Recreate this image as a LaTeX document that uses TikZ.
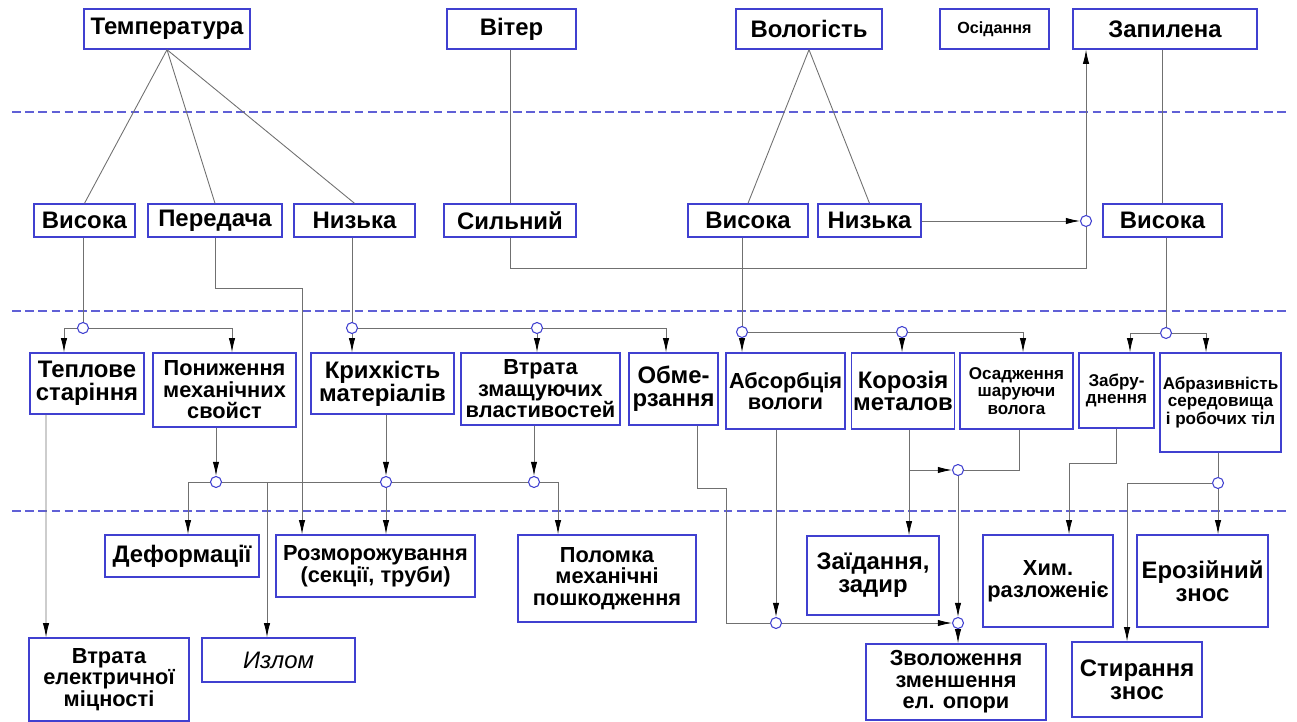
\documentclass[tikz,border=0pt]{standalone}
\usepackage{fontspec}
\setmainfont{Liberation Sans}
\usetikzlibrary{arrows.meta}
\definecolor{fmblue}{RGB}{64,64,208}
\definecolor{fmgray}{RGB}{112,112,112}
\definecolor{fmdash}{RGB}{96,96,214}
\tikzset{
  fmnode/.style={draw=fmblue, line width=0.8pt, fill=white, align=center,
    inner sep=1pt, text=black},
  fmsize/.style 2 args={minimum width=#1*0.02cm, minimum height=#2*0.02cm},
  fbig/.style={font=\bfseries\fontsize{13.6}{13}\selectfont},
  fmid/.style={font=\bfseries\fontsize{12.4}{12.3}\selectfont},
  fsmall/.style={font=\bfseries\fontsize{9.7}{10}\selectfont},
  ftiny/.style={font=\bfseries\fontsize{9.2}{10}\selectfont},
  fjoin/.style={circle, draw=fmblue, line width=0.6pt, fill=white,
    minimum size=0.22cm, inner sep=0pt},
  fline/.style={draw=fmgray, line width=0.5pt},
  farrow/.style={fline, -{Latex[length=8pt,width=3.6pt,color=black]}},
  fsep/.style={draw=fmdash, line width=0.6pt, dash pattern=on 5pt off 2.5pt}
}
\begin{document}
\begin{tikzpicture}[x=0.02cm,y=-0.02cm]
  \useasboundingbox (0,0) rectangle (1297,722);
  \foreach \yy in {112,311,511} \draw[fsep] (12,\yy) -- (1290,\yy);
  \node[fmnode,fbig,fmsize={166}{40}] (temp) at (167,29) {Температура};
  \node[fmnode,fbig,fmsize={129}{40}] (viter) at (511.5,29) {Вітер};
  \node[fmnode,fbig,fmsize={146}{40}] (volog) at (809,29) {Вологість};
  \node[fmnode,ftiny,fmsize={109}{40}] (osid) at (994.5,29) {Осідання};
  \node[fmnode,fbig,fmsize={184}{40}] (zapyl) at (1165,29) {Запилена};
  \node[fmnode,fbig,fmsize={101}{33}] (tvys) at (84.5,220.5) {Висока};
  \node[fmnode,fbig,fmsize={134}{33}] (tper) at (215,220.5) {Передача};
  \node[fmnode,fbig,fmsize={121}{33}] (tnyz) at (354.5,220.5) {Низька};
  \node[fmnode,fbig,fmsize={132}{33}] (vsyl) at (510,220.5) {Сильний};
  \node[fmnode,fbig,fmsize={120}{33}] (hvys) at (748,220.5) {Висока};
  \node[fmnode,fbig,fmsize={103}{33}] (hnyz) at (869.5,220.5) {Низька};
  \node[fmnode,fbig,fmsize={119}{33}] (zvys) at (1162.5,220.5) {Висока};
  \node[fmnode,fbig,fmsize={114}{61}] (teplo) at (87,383.5) {Теплове\\старіння};
  \node[fmnode,fmid,fmsize={143}{74}] (ponyz) at (224.5,390) {Пониження\\механічних\\свойст};
  \node[fmnode,fbig,fmsize={143}{61}] (krykh) at (382.5,383.5) {Крихкість\\матеріалів};
  \node[fmnode,fmid,fmsize={159}{72}] (vtrzm) at (540.5,389) {Втрата\\змащуючих\\властивостей};
  \node[fmnode,fbig,fmsize={89}{72}] (obmer) at (673.5,389) {Обме-\\рзання};
  \node[fmnode,fmid,fmsize={119}{76}] (absor) at (785.5,391) {Абсорбція\\вологи};
  \node[fmnode,fbig,fmsize={102}{76}] (koroz) at (903,391) {Корозія\\металов};
  \node[fmnode,fsmall,fmsize={113}{76}] (osad) at (1016.5,391) {Осадження\\шаруючи\\волога};
  \node[fmnode,fsmall,fmsize={75}{75}] (zabr) at (1116.5,390.5) {Забру-\\днення};
  \node[fmnode,fsmall,fmsize={121}{99}] (abraz) at (1220.5,402.5) {Абразивність\\середовища\\і робочих тіл};
  \node[fmnode,fbig,fmsize={154}{42}] (deform) at (182,556) {Деформації};
  \node[fmnode,fmid,fmsize={199}{62}] (rozm) at (375.5,566) {Розморожування\\(секції, труби)};
  \node[fmnode,fmid,fmsize={178}{87}] (polom) at (607,578.5) {Поломка\\механічні\\пошкодження};
  \node[fmnode,fbig,fmsize={132}{79}] (zaid) at (873,575.5) {Заїдання,\\задир};
  \node[fmnode,fmid,fmsize={130}{92}] (khim) at (1048,581) {Хим.\\разложеніє};
  \node[fmnode,fbig,fmsize={131}{92}] (eroz) at (1202.5,581) {Ерозійний\\знос};
  \node[fmnode,fmid,fmsize={160}{83}] (vtrel) at (109,679.5) {Втрата\\електричної\\міцності};
  \node[fmnode,fmsize={153}{44},font=\itshape\fontsize{13.6}{13}\selectfont] (izlom) at (278.5,660) {Излом};
  \node[fmnode,fmid,fmsize={180}{76}] (zvol) at (956,682) {Зволоження\\зменшення\\ел. опори};
  \node[fmnode,fbig,fmsize={130}{75}] (styr) at (1137,679.5) {Стирання\\знос};
  \node[fjoin] (c1) at (83,328) {};
  \node[fjoin] (c2) at (352,328) {};
  \node[fjoin] (c3) at (537,328) {};
  \node[fjoin] (c4) at (216,482) {};
  \node[fjoin] (c5) at (386,482) {};
  \node[fjoin] (c6) at (534,482) {};
  \node[fjoin] (c7) at (742,332) {};
  \node[fjoin] (c8) at (902,332) {};
  \node[fjoin] (c9) at (1166,333) {};
  \node[fjoin] (c10) at (1086,221) {};
  \node[fjoin] (c11) at (958,470) {};
  \node[fjoin] (c12) at (776,623) {};
  \node[fjoin] (c13) at (958,623) {};
  \node[fjoin] (c14) at (1218,483) {};
  \coordinate (j1) at (267,482);
  \coordinate (k2) at (909,470);
  \draw[fline] (temp.south) -- (tvys.north);
  \draw[fline] (temp.south) -- (tper.north);
  \draw[fline] (temp.south) -- (tnyz.north);
  \draw[fline] (vsyl.north |- viter.south) -- (vsyl.north);
  \draw[fline] (volog.south) -- (hvys.north);
  \draw[fline] (volog.south) -- (hnyz.north);
  \draw[fline] (zvys.north |- zapyl.south) -- (zvys.north);
  \draw[fline] (vsyl.south) -- ++(0,31) -| (c10);
  \draw[farrow] (hnyz.east |- c10) -- (c10);
  \draw[farrow] (c10) -- (c10 |- zapyl.south);
  \draw[fline] (tvys.south -| c1) -- (c1);
  \draw[farrow] (c1) -| ([xshift=-0.46cm]teplo.north);
  \draw[farrow] (c1) -| ([xshift=0.15cm]ponyz.north);
  \draw[fline] (tnyz.south -| c2) -- (c2);
  \draw[farrow] (c2) -- (c2 |- krykh.north);
  \draw[fline] (c2) -- (c3);
  \draw[farrow] (c3) -- (c3 |- vtrzm.north);
  \draw[farrow] (c3) -| ([xshift=-0.15cm]obmer.north);
  \draw[farrow] (ponyz.south -| c4) -- (c4);
  \draw[farrow] (krykh.south -| c5) -- (c5);
  \draw[farrow] (vtrzm.south -| c6) -- (c6);
  \draw[farrow] (c4) -| ([xshift=0.12cm]deform.north);
  \draw[fline] (c4) -- (c5);
  \draw[fline] (c5) -- (c6);
  \draw[farrow] (j1) -- (j1 |- izlom.north);
  \draw[farrow] (c5) -- (c5 |- rozm.north);
  \draw[farrow] (c6) -| ([xshift=-0.98cm]polom.north);
  \draw[farrow] (tper.south) -- ++(0,51) -| ([xshift=-1.47cm]rozm.north);
  \draw[farrow] ([xshift=-0.82cm]teplo.south) -- ([xshift=-1.26cm]vtrel.north);
  \draw[fline] (hvys.south -| c7) -- (c7);
  \draw[farrow] (c7) -- (c7 |- absor.north);
  \draw[fline] (c7) -- (c8);
  \draw[farrow] (c8) -- (c8 |- koroz.north);
  \draw[farrow] (c8) -| ([xshift=0.13cm]osad.north);
  \draw[farrow] (absor.south -| c12) -- (c12);
  \draw[fline] ([xshift=0.47cm]obmer.south) -- ++(0,63) -- ++(29,0) |- (c12);
  \draw[farrow] (koroz.south -| k2) -- (zaid.north -| k2);
  \draw[farrow] (k2) -- (c11);
  \draw[fline] ([xshift=0.05cm]osad.south) |- (c11);
  \draw[farrow] (c11) -- (c13);
  \draw[farrow] (c12) -- (c13);
  \draw[farrow] (c13) -- (c13 |- zvol.north);
  \draw[fline] (zvys.south -| c9) -- (c9);
  \draw[farrow] (c9) -| ([xshift=0.27cm]zabr.north);
  \draw[farrow] (c9) -| ([xshift=-0.29cm]abraz.north);
  \draw[farrow] (zabr.south) -- ++(0,35) -| ([xshift=0.42cm]khim.north);
  \draw[fline] (abraz.south -| c14) -- (c14);
  \draw[farrow] (c14) -- (c14 |- eroz.north);
  \draw[farrow] (c14) -| ([xshift=-0.2cm]styr.north);
\end{tikzpicture}
\end{document}
